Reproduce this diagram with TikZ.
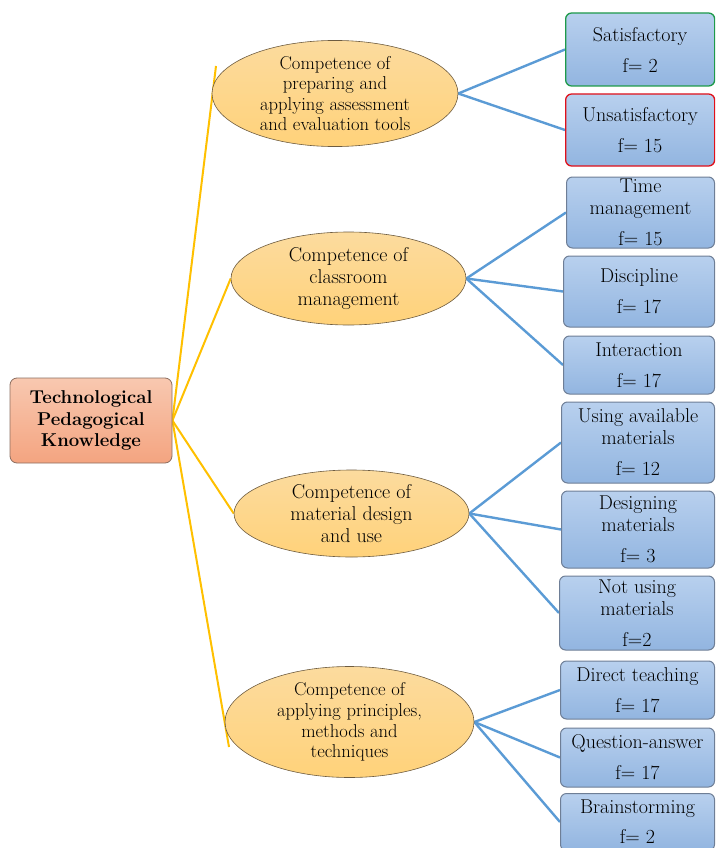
\documentclass[tikz,border=0pt]{standalone}
\usepackage{fontspec}
\usetikzlibrary{shapes.geometric,backgrounds}

\definecolor{rootTop}{RGB}{248,200,176}
\definecolor{rootBot}{RGB}{244,164,128}
\definecolor{rootLine}{RGB}{140,110,96}
\definecolor{compTop}{RGB}{252,219,158}
\definecolor{compBot}{RGB}{255,210,122}
\definecolor{compLine}{RGB}{110,92,64}
\definecolor{leafTop}{RGB}{184,208,238}
\definecolor{leafBot}{RGB}{146,181,224}
\definecolor{leafLine}{RGB}{110,126,150}
\definecolor{goodLine}{RGB}{30,154,74}
\definecolor{badLine}{RGB}{224,16,26}
\definecolor{trunk}{RGB}{255,192,0}
\definecolor{twig}{RGB}{91,155,213}

\newcommand\leaffont{\fontsize{20}{22}\selectfont}
\newcommand\compfont{\fontsize{20}{22}\selectfont}
\newcommand\smallcompfont{\fontsize{18.6}{20.6}\selectfont}
\newcommand\rootfont{\fontsize{18.6}{21.5}\selectfont\bfseries}

\begin{document}
\begin{tikzpicture}[x=1pt,y=-1pt,
  rootbox/.style={draw=rootLine,line width=0.8pt,rounded corners=7pt,top color=rootTop,bottom color=rootBot,align=center,inner sep=0pt,font=\rootfont},
  comp/.style={ellipse,draw=compLine,line width=0.6pt,top color=compTop,bottom color=compBot,align=center,inner sep=0pt,font=\compfont},
  leaf/.style={anchor=west,draw=leafLine,line width=1pt,rounded corners=6pt,top color=leafTop,bottom color=leafBot,align=center,inner sep=0pt,font=\leaffont},
  trunklink/.style={draw=trunk,line width=2pt},
  twiglink/.style={draw=twig,line width=2.4pt}]
  \clip (0,0) rectangle (715,848);
  % root
  \node[rootbox,minimum width=162,minimum height=85] (tpk) at(91,420.5){Technological\\Pedagogical\\Knowledge};
  % competences
  \node[comp,font=\smallcompfont,minimum width=246,minimum height=104] (assess) at(335,93.5){Competence of\\preparing and\\applying assessment\\and evaluation tools};
  \node[comp,minimum width=235,minimum height=93] (classroom) at(348.5,278.5){Competence of\\classroom\\management};
  \node[comp,minimum width=235,minimum height=87] (material) at(351.5,513.5){Competence of\\material design\\and use};
  \node[comp,font=\smallcompfont,minimum width=249,minimum height=92] (principles) at(349.5,722){Competence of\\applying principles,\\methods and\\techniques};
  % branch 1
  \node[leaf,draw=goodLine,line width=1.3pt,minimum width=149,minimum height=73] (satis) at(565,49.5){Satisfactory\\[9pt]f= 2};
  \node[leaf,draw=badLine,line width=1.3pt,minimum width=149,minimum height=72] (unsatis) at(565,130){Unsatisfactory\\[9pt]f= 15};
  % branch 2
  \node[leaf,minimum width=148,minimum height=71] (time) at(566,212.5){Time\\management\\[9pt]f= 15};
  \node[leaf,minimum width=151,minimum height=71] (discipline) at(563,291.5){Discipline\\[9pt]f= 17};
  \node[leaf,minimum width=151,minimum height=58] (interaction) at(563,365){Interaction\\[9pt]f= 17};
  % branch 3
  \node[leaf,minimum width=153,minimum height=81] (available) at(561,442.5){Using available\\materials\\[9pt]f= 12};
  \node[leaf,minimum width=153,minimum height=77] (designing) at(561,529.5){Designing\\materials\\[9pt]f= 3};
  \node[leaf,minimum width=155,minimum height=74] (notusing) at(559,613){Not using\\materials\\[9pt]f=2};
  % branch 4
  \node[leaf,minimum width=154,minimum height=58] (direct) at(560,690){Direct teaching\\[9pt]f= 17};
  \node[leaf,minimum width=154,minimum height=59] (question) at(560,757.5){Question-answer\\[9pt]f= 17};
  \node[leaf,minimum width=154,minimum height=57] (brain) at(560,822){Brainstorming\\[8pt]f= 2};
  % connectors
  \coordinate (trunktop) at(216,66);
  \coordinate (trunkbot) at(229,747);
  \begin{scope}[on background layer]
    \draw[trunklink] (tpk.east) -- (trunktop);
    \draw[trunklink] (tpk.east) -- (classroom.west);
    \draw[trunklink] (tpk.east) -- (material.west);
    \draw[trunklink] (tpk.east) -- (trunkbot);
    \draw[twiglink] (assess.east) -- (satis.west);
    \draw[twiglink] (assess.east) -- (unsatis.west);
    \draw[twiglink] (classroom.east) -- (time.west);
    \draw[twiglink] (classroom.east) -- (discipline.west);
    \draw[twiglink] (classroom.east) -- (interaction.west);
    \draw[twiglink] (material.east) -- (available.west);
    \draw[twiglink] (material.east) -- (designing.west);
    \draw[twiglink] (material.east) -- (notusing.west);
    \draw[twiglink] (principles.east) -- (direct.west);
    \draw[twiglink] (principles.east) -- (question.west);
    \draw[twiglink] (principles.east) -- (brain.west);
  \end{scope}
\end{tikzpicture}
\end{document}
